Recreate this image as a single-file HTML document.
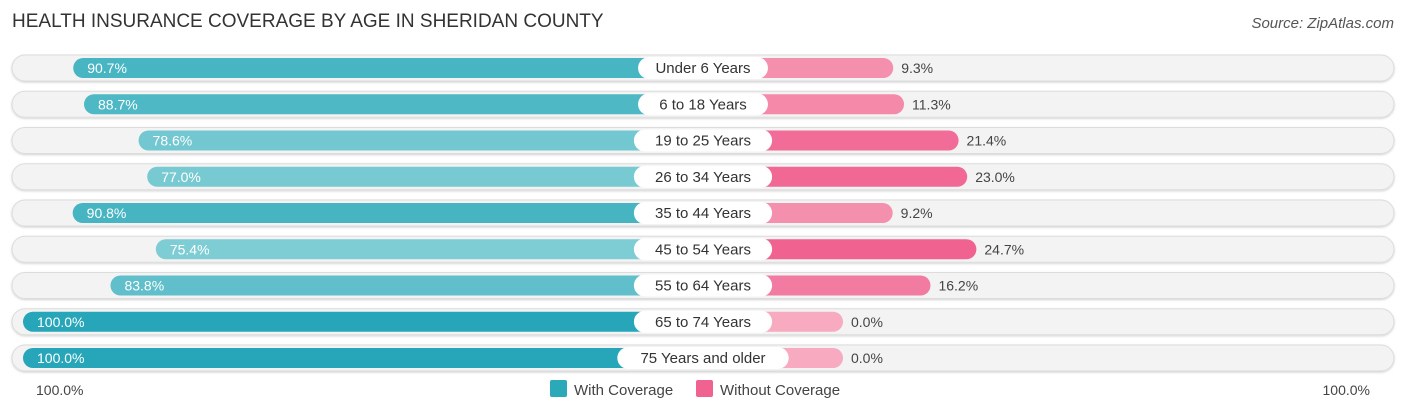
<!DOCTYPE html>
<html><head><meta charset="utf-8"><style>
body{margin:0;width:1406px;height:414px;background:#fff;font-family:"Liberation Sans",sans-serif;overflow:hidden;position:relative}
.t{position:absolute;white-space:nowrap}
</style></head><body>
<div class="t" style="left:12px;top:11px;font-size:19px;color:#333">HEALTH INSURANCE COVERAGE BY AGE IN SHERIDAN COUNTY</div>
<div class="t" style="right:12px;top:15px;font-size:15px;color:#555;font-style:italic">Source: ZipAtlas.com</div>
<svg id="c" width="1406" height="414" style="position:absolute;left:0;top:0"></svg>
<script>
const categories=["Under 6 Years","6 to 18 Years","19 to 25 Years","26 to 34 Years","35 to 44 Years","45 to 54 Years","55 to 64 Years","65 to 74 Years","75 Years and older"];
const withCov=[90.7,88.7,78.6,77.0,90.8,75.4,83.8,100.0,100.0];
const withoutCov=[9.3,11.3,21.4,23.0,9.2,24.7,16.2,0.0,0.0];
const axisLabels=["100.0%","100.0%"];
const svg=document.getElementById('c');const NS="http://www.w3.org/2000/svg";
const cx=703,base=140,k=5.4,y0=68,dy=36.25;
function mk(t,a,p){const e=document.createElementNS(NS,t);for(const x in a)e.setAttribute(x,a[x]);(p||svg).appendChild(e);return e;}
function mix(a,b,t){return 'rgb('+a.map((v,i)=>Math.round(v+(b[i]-v)*t)).join(',')+')';}
const defs=mk('defs',{});const f=mk('filter',{id:'sh',x:'-5%',y:'-50%',width:'110%',height:'200%'},defs);
mk('feDropShadow',{dx:0,dy:1,stdDeviation:1,'flood-color':'#000','flood-opacity':0.18},f);
categories.forEach((c,i)=>{
 const y=y0+i*dy;
 const g=mk('g',{});
 
 
 const tr=mk('rect',{x:12,y:y-13,width:1382,height:26,rx:13,fill:'#f3f3f3',stroke:'#dcdcdc',filter:'url(#sh)'},g);
 
 const lw=base+k*withCov[i];
 const lb=mk('rect',{x:cx-lw,y:y-10,width:lw,height:20,rx:10,fill:mix([127,205,212],[38,166,184],(withCov[i]-75)/25)},g);
 
 const rw=base+k*withoutCov[i];
 const rb=mk('rect',{x:cx,y:y-10,width:rw,height:20,rx:10,fill:mix([247,170,192],[240,98,144],withoutCov[i]/25)},g);
 
 const lt=mk('text',{x:cx-lw+14,y:y+5,'font-size':14,fill:'#fff'},g);lt.textContent=withCov[i].toFixed(1)+'%';
 
 const rt=mk('text',{x:cx+rw+8,y:y+5,'font-size':14,fill:'#444'},g);rt.textContent=withoutCov[i].toFixed(1)+'%';
 
 const w=c.length*8.3+22;
 const pb=mk('rect',{x:cx-w/2,y:y-11,width:w,height:22,rx:11,fill:'#fff'},g);
 
 const ct=mk('text',{x:cx,y:y+5,'font-size':15,fill:'#333','text-anchor':'middle'},g);ct.textContent=c;
 
});
const a1=mk('text',{x:36,y:395,'font-size':14,fill:'#444'});a1.textContent=axisLabels[0];

const a2=mk('text',{x:1370,y:395,'font-size':14,fill:'#444','text-anchor':'end'});a2.textContent=axisLabels[1];

const s1=mk('rect',{x:550,y:380,width:17,height:17,rx:2,fill:'#2ba9b8'});
const l1=mk('text',{x:574,y:395,'font-size':15,fill:'#444'});l1.textContent='With Coverage';
const s2=mk('rect',{x:696,y:380,width:17,height:17,rx:2,fill:'#f06290'});
const l2=mk('text',{x:720,y:395,'font-size':15,fill:'#444'});l2.textContent='Without Coverage';
</script>
</body></html>
